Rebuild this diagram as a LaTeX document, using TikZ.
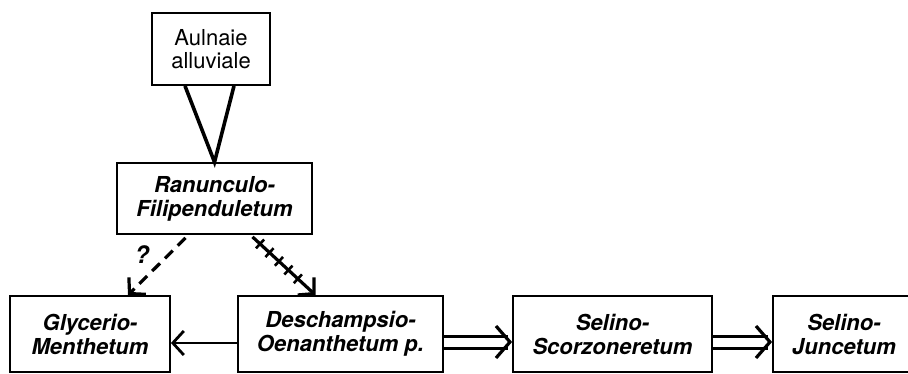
\documentclass[tikz,border=0pt]{standalone}
\usepackage{fontspec}
\setmainfont{TeX Gyre Heros}
\usetikzlibrary{calc, arrows.meta, decorations.markings}

\tikzset{
	assoc/.style = {draw, line width=1.8pt, inner sep=0pt, align=center, minimum height=76pt, font=\bfseries\itshape\fontsize{22}{24}\selectfont},
	chevron/.style = {-{Straight Barb[length=11pt, width=24pt]}},
	bigchevron/.style = {-{Straight Barb[length=14pt, width=32pt, line width=3.2pt]}},
	ticked/.style = {postaction={decorate}, decoration={markings,
		mark=between positions 0.12 and 0.8 step 0.15 with {\draw[-, solid, line width=2.6pt] (0,-6pt) -- (0,6pt);}}},
	twin/.style = {double, double distance=9pt, line width=3pt},
}

\begin{document}
\begin{tikzpicture}[x=1pt, y=-1pt]
			\useasboundingbox (0,0) rectangle (908,374);

			\node[draw, line width=1.8pt, inner sep=0pt, minimum width=118pt, minimum height=72pt, align=center, font=\fontsize{22}{23.5}\selectfont] (aulnaie) at (211,49) {Aulnaie\\alluviale};
			\node[assoc, minimum width=195pt, minimum height=71pt] (ranunc) at (214.5,198.5) {Ranunculo-\\Filipenduletum};

			\node[assoc, minimum width=160pt] (glycer) at (90,334) {Glycerio-\\Menthetum};
			\node[assoc, minimum width=205pt] (descham) at (340.5,334) {Deschampsio-\\Oenanthetum \textit{p.}};
			\node[assoc, minimum width=199pt] (selscor) at (612.5,334) {Selino-\\Scorzoneretum};
			\node[assoc, minimum width=142pt] (seljunc) at (844,334) {Selino-\\Juncetum};

			\draw [line width=3.6pt] ($(aulnaie.south)+(-26,0)$) -- (ranunc.north) -- ($(aulnaie.south)+(23,0)$);

			\draw [chevron, line width=3.2pt, dash pattern=on 11pt off 7pt] ($(ranunc.south)+(-29,3)$) -- ($(glycer.north)+(38,0)$);
			\draw [chevron, line width=3.2pt, ticked] ($(ranunc.south)+(38,2)$) -- ($(descham.north)+(-25,0)$);
			\node[font=\bfseries\itshape\fontsize{24}{24}\selectfont] (quest) at (142,255) {?};

			\draw [chevron, line width=2.8pt] ([yshift=-9pt]descham.west) -- ([yshift=-9pt]glycer.east);

			\draw [twin, bigchevron] ([yshift=-8pt]descham.east) -- ([yshift=-8pt]selscor.west);
			\draw [twin, bigchevron] ([yshift=-8pt]selscor.east) -- ([yshift=-8pt]seljunc.west);
		\end{tikzpicture}
\end{document}
